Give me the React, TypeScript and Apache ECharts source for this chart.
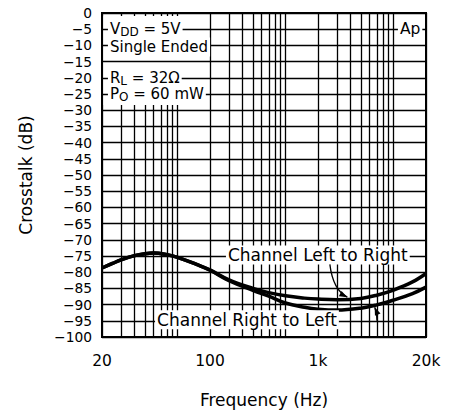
import React, { useEffect, useRef } from "react";
import * as echarts from "echarts";

// ---- data (frequency in Hz, crosstalk in dB) ----
const freqs = [20, 25, 30, 40, 50, 60, 80, 100, 150, 200, 300, 500, 700, 1000, 1500, 2000, 3000, 5000, 7000, 10000, 15000, 20000];
const crosstalkLeftToRight = [-78.7, -77.3, -76.2, -74.9, -74.3, -74.1, -74.6, -75.4, -77.6, -79.3, -82.4, -85.0, -86.3, -87.3, -88.0, -88.3, -88.5, -88.1, -87.1, -85.5, -83.0, -80.4];
const crosstalkRightToLeft = [-78.7, -77.3, -76.2, -74.9, -74.3, -74.1, -74.6, -75.4, -77.6, -79.4, -82.6, -85.6, -87.4, -89.5, -90.8, -91.4, -91.7, -91.1, -90.1, -88.6, -86.6, -84.6];

const gridFreqs = [20, 30, 40, 50, 60, 70, 80, 90, 100, 200, 300, 400, 500, 600, 700, 800, 900, 1000, 2000, 3000, 4000, 5000, 6000, 7000, 8000, 9000, 10000, 20000];
const xTickFreqs = [20, 200, 2000, 20000];
const xTickLabels = ["20", "100", "1k", "20k"];

const yMin = -100;
const yMax = 0;
const yStep = 5;

const FONT = '"DejaVu Sans", sans-serif';
const lg = (v: number) => Math.log10(v);

export default function App() {
  const ref = useRef<HTMLDivElement>(null);
  useEffect(() => {
    const chart = echarts.init(ref.current!, null, { renderer: "svg", width: 450, height: 416 });
    chart.setOption({
      animation: false,
      backgroundColor: "#fff",
      grid: { left: 102, top: 13, width: 324, height: 324, show: true, borderColor: "#000", borderWidth: 2, backgroundColor: "transparent", z: 6 },
      xAxis: {
        type: "value",
        min: lg(20),
        max: lg(20000),
        z: 0,
        axisLine: { show: false },
        axisTick: { show: false, customValues: gridFreqs.map(lg) },
        splitLine: { show: true, lineStyle: { color: "#000", width: 1.3 } },
        axisLabel: {
          customValues: xTickFreqs.map(lg),
          formatter: (v: number) => {
            const i = xTickFreqs.findIndex((f) => Math.abs(lg(f) - v) < 1e-6);
            return i >= 0 ? xTickLabels[i] : "";
          },
          fontFamily: FONT,
          fontSize: 15.5,
          color: "#000",
          margin: 16,
          showMinLabel: true,
          showMaxLabel: true,
          hideOverlap: false,
        },
        name: "Frequency (Hz)",
        nameLocation: "middle",
        nameGap: 54,
        nameTextStyle: { fontFamily: FONT, fontSize: 17, color: "#000" },
      },
      yAxis: {
        type: "value",
        min: yMin,
        max: yMax,
        interval: yStep,
        z: 2,
        axisLine: { show: false },
        axisTick: { show: false },
        splitLine: { show: true, lineStyle: { color: "#000", width: 1.3 } },
        axisLabel: {
          formatter: (v: number) => (v === 0 ? "0" : "\u2212" + Math.abs(v)),
          fontFamily: FONT,
          fontSize: 13.8,
          lineHeight: 14,
          color: "#000",
          margin: 10,
        },
        name: "Crosstalk (dB)",
        nameLocation: "middle",
        nameRotate: 90,
        nameGap: 68,
        nameTextStyle: { fontFamily: FONT, fontSize: 17, color: "#000" },
      },
      series: [
        {
          name: "Channel Left to Right",
          type: "line",
          data: freqs.map((f, i) => [lg(f), crosstalkLeftToRight[i]]),
          showSymbol: false,
          smooth: 0.4,
          lineStyle: { color: "#000", width: 3.5 },
          z: 3,
        },
        {
          name: "Channel Right to Left",
          type: "line",
          data: freqs.map((f, i) => [lg(f), crosstalkRightToLeft[i]]),
          showSymbol: false,
          smooth: 0.4,
          lineStyle: { color: "#000", width: 3.5 },
          z: 3,
        },
      ],
    });

    const px = (f: number, db: number) => chart.convertToPixel({ gridIndex: 0 }, [lg(f), db]) as number[];

    const p0 = px(20, -0.9);
    const p1 = px(105, -28.4);

    const txt = (f: number, db: number, text: string, size: number, align: string, rich?: boolean, z = 10) => {
      const p = px(f, db);
      const style: any = {
        text,
        fontFamily: FONT,
        fontSize: size,
        fill: "#000",
        align,
        verticalAlign: "middle",
        backgroundColor: "#fff",
        padding: rich ? [0, 2] : [1, 2],
        lineHeight: rich ? 18 : 17,
      };
      if (rich) {
        style.rich = { sub: { fontSize: 12, fontFamily: FONT, verticalAlign: "bottom", lineHeight: 9, fill: "#000" } };
      }
      return { type: "text", x: p[0], y: p[1], z, style };
    };

    const head = (tip: number[], from: number[], len = 8, hw = 3) => {
      const dx = tip[0] - from[0];
      const dy = tip[1] - from[1];
      const d = Math.hypot(dx, dy) || 1;
      const ux = dx / d, uy = dy / d;
      const bx = tip[0] - ux * len, by = tip[1] - uy * len;
      return {
        type: "polygon",
        z: 11,
        shape: { points: [tip, [bx - uy * hw, by + ux * hw], [bx + uy * hw, by - ux * hw]] },
        style: { fill: "#000" },
      };
    };

    // arrow Left->Right
    const a1s = px(2576, -77.6);
    const a1c = px(2752, -85.5);
    const a1e = px(3740, -87.7);
    // arrow Right->Left
    const a2s = px(7030, -95.0);
    const a2c = px(7030, -92.5);
    const a2e = px(6700, -90.8);

    chart.setOption({
      graphic: [
        {
          type: "rect",
          z: 1,
          shape: { x: p0[0] + 1.5, y: p0[1], width: p1[0] - p0[0] - 1.5, height: p1[1] - p0[1] },
          style: { fill: "#fff" },
        },
        txt(22.7, -10.5, "Single Ended", 15, "left", false, 10),
        txt(22.7, -5, "V{sub|DD} = 5V", 15, "left", true, 12),
        txt(22.7, -25, "P{sub|O} = 60 mW", 15, "left", true, 10),
        txt(22.7, -20, "R{sub|L} = 32\u03a9", 15, "left", true, 12),
        txt(18500, -5, "Ap", 15.5, "right"),
        txt(281, -74.7, "Channel Left to Right", 17, "left"),
        txt(62, -94.7, "Channel Right to Left", 17, "left"),
        {
          type: "bezierCurve",
          z: 11,
          shape: { x1: a1s[0], y1: a1s[1], cpx1: a1c[0], cpy1: a1c[1], x2: a1e[0], y2: a1e[1] },
          style: { stroke: "#000", lineWidth: 1.3, fill: "none" },
        },
        head(a1e, a1c),
        {
          type: "bezierCurve",
          z: 11,
          shape: { x1: a2s[0], y1: a2s[1], cpx1: a2c[0], cpy1: a2c[1], x2: a2e[0], y2: a2e[1] },
          style: { stroke: "#000", lineWidth: 1.3, fill: "none" },
        },
        head(a2e, a2c),
      ],
    });

    return () => chart.dispose();
  }, []);
  return <div ref={ref} style={{ position: "absolute", left: 0, top: 0, width: 450, height: 416 }} />;
}
